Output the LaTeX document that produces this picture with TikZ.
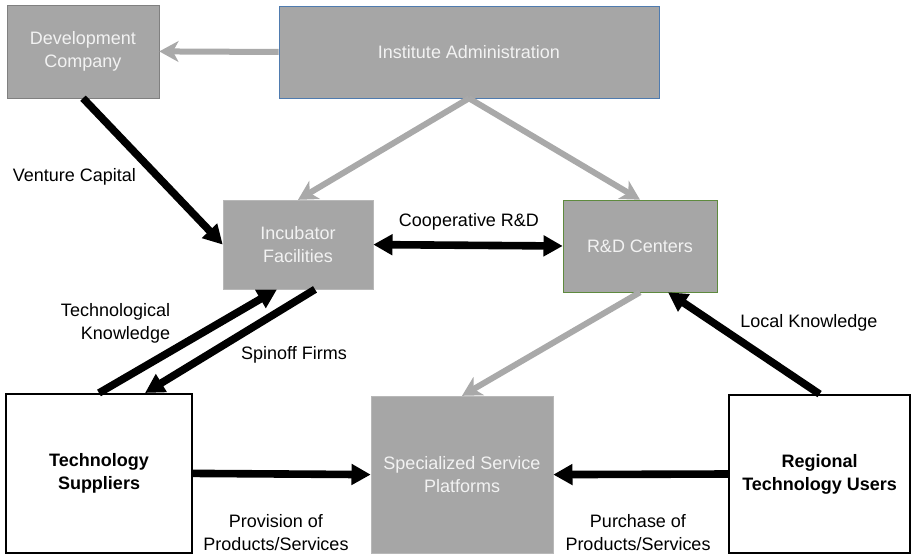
\documentclass[tikz,border=0pt]{standalone}
\usepackage{fontspec}
\setmainfont{Liberation Sans}
\usetikzlibrary{arrows.meta}
\definecolor{boxgray}{HTML}{A6A6A6}
\definecolor{arrowgray}{HTML}{A9A9A9}
\definecolor{adminblue}{HTML}{4F7BAF}
\definecolor{rdgreen}{HTML}{5E8A3E}
\begin{document}
\begin{tikzpicture}[
  box/.style={rectangle, fill=boxgray, draw=boxgray!80!white, text=white!95!black, align=center, inner sep=0pt, font=\fontsize{12.8}{16.3}\selectfont},
  actor/.style={rectangle, draw=black, line width=1.3pt, fill=white, align=center, inner sep=0pt, font=\fontsize{12.8}{16.3}\selectfont\bfseries},
  flow/.style={->, >={Triangle[length=0.48cm, width=0.5cm]}, line width=0.19cm, black},
  admin/.style={->, >={Stealth[length=0.48cm, width=0.52cm, inset=0.14cm]}, line width=0.15cm, arrowgray},
  note/.style={font=\fontsize{12.8}{16.3}\selectfont, text=black, align=center},
]
\useasboundingbox (0,0) rectangle (22.8,13.875);

% Top row
\node[box, draw=gray, minimum width=3.8cm, minimum height=2.325cm] (dev) at (2.075, 12.59) {Development\\Company};
\node[box, draw=adminblue, minimum width=9.5cm, minimum height=2.3cm] (admin) at (11.725, 12.575) {Institute Administration};

% Middle row
\node[box, minimum width=3.75cm, minimum height=2.225cm] (incub) at (7.45, 7.76) {Incubator\\Facilities};
\node[box, draw=rdgreen, minimum width=3.85cm, minimum height=2.3cm] (rd) at (16.0, 7.725) {R\&D Centers};

% Bottom row
\node[actor, minimum width=4.65cm, minimum height=3.975cm] (supp) at (2.475, 2.04) {Technology\\Suppliers};
\node[box, minimum width=4.55cm, minimum height=3.925cm] (ssp) at (11.55, 2.01) {Specialized Service\\Platforms};
\node[actor, minimum width=4.525cm, minimum height=3.95cm] (users) at (20.49, 2.025) {Regional\\Technology Users};

% Administrative links
\draw[admin] (admin.west) -- (dev.east);
\draw[admin] (admin.south) -- (incub.north);
\draw[admin] (admin.south) -- (rd.north);
\draw[admin] (rd.south) -- (ssp.north);

% Flows between actors
\draw[flow] (dev.south) -- (incub.west);
\draw[flow, <->] (incub.east) -- (rd.west);
\draw[flow] (supp.north) -- ([xshift=-0.525cm]incub.south);
\draw[flow] ([xshift=0.425cm]incub.south) -- ([xshift=1.15cm]supp.north);
\draw[flow] (users.north) -- ([xshift=0.7cm]rd.south);
\draw[flow] (supp.east) -- (ssp.west);
\draw[flow] (users.west) -- (ssp.east);

% Flow labels
\node[note] (vc) at (1.86, 9.45) {Venture Capital};
\node[note, anchor=east, align=right] (tk) at (4.375, 5.8) {Technological\\Knowledge};
\node[note] (sf) at (7.35, 5.0) {Spinoff Firms};
\node[note] (coop) at (11.725, 8.33) {Cooperative R\&D};
\node[note] (lk) at (20.225, 5.8) {Local Knowledge};
\node[note] (prov) at (6.9, 0.55) {Provision of\\Products/Services};
\node[note] (purch) at (15.95, 0.55) {Purchase of\\Products/Services};
\end{tikzpicture}
\end{document}
